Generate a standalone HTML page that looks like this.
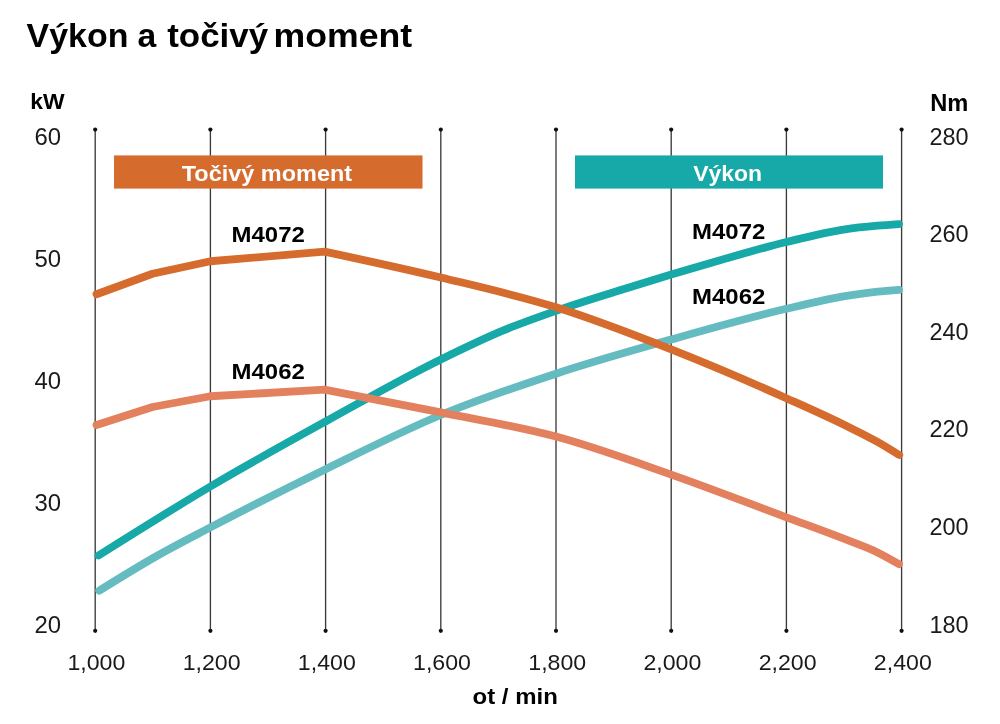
<!DOCTYPE html>
<html lang="cs">
<head>
<meta charset="utf-8">
<title>Výkon a točivý moment</title>
<style>
html,body{margin:0;padding:0;background:#fff;}
body{width:1000px;height:724px;overflow:hidden;font-family:"Liberation Sans",sans-serif;}
svg{display:block;}
svg text{font-family:"Liberation Sans",sans-serif;fill:#1a1a1a;}
.b{fill:#000;}
.b{font-weight:bold;}
.w{fill:#fff !important;}
</style>
</head>
<body>
<svg width="1000" height="724" viewBox="0 0 1000 724">
<rect width="1000" height="724" fill="#fff"/>

<g aria-label="Výkon a točivý moment">
<text class="b" transform="translate(26.6,47) scale(1.045,1)" font-size="32.5">Výkon</text>
<text class="b" transform="translate(137.4,47) scale(1.036,1)" font-size="32.5">a</text>
<text class="b" transform="translate(167.2,47) scale(1.074,1)" font-size="32.5">točivý</text>
<text class="b" transform="translate(273.5,47) scale(1.097,1)" font-size="32.5">moment</text>
</g>
<text class="b" transform="translate(30.2,108.75) scale(1.04,1)" font-size="22">kW</text>
<text class="b" transform="translate(930.2,111.3) scale(1.03,1)" font-size="23">Nm</text>
<line x1="95.2" y1="129.6" x2="95.2" y2="630.8" stroke="#3c3c3c" stroke-width="1.35"/>
<circle cx="95.2" cy="129.6" r="2.1" fill="#111"/>
<circle cx="95.2" cy="630.8" r="2.1" fill="#111"/>
<line x1="210.4" y1="129.6" x2="210.4" y2="630.8" stroke="#3c3c3c" stroke-width="1.35"/>
<circle cx="210.4" cy="129.6" r="2.1" fill="#111"/>
<circle cx="210.4" cy="630.8" r="2.1" fill="#111"/>
<line x1="325.6" y1="129.6" x2="325.6" y2="630.8" stroke="#3c3c3c" stroke-width="1.35"/>
<circle cx="325.6" cy="129.6" r="2.1" fill="#111"/>
<circle cx="325.6" cy="630.8" r="2.1" fill="#111"/>
<line x1="440.8" y1="129.6" x2="440.8" y2="630.8" stroke="#3c3c3c" stroke-width="1.35"/>
<circle cx="440.8" cy="129.6" r="2.1" fill="#111"/>
<circle cx="440.8" cy="630.8" r="2.1" fill="#111"/>
<line x1="556.0" y1="129.6" x2="556.0" y2="630.8" stroke="#3c3c3c" stroke-width="1.35"/>
<circle cx="556.0" cy="129.6" r="2.1" fill="#111"/>
<circle cx="556.0" cy="630.8" r="2.1" fill="#111"/>
<line x1="671.2" y1="129.6" x2="671.2" y2="630.8" stroke="#3c3c3c" stroke-width="1.35"/>
<circle cx="671.2" cy="129.6" r="2.1" fill="#111"/>
<circle cx="671.2" cy="630.8" r="2.1" fill="#111"/>
<line x1="786.4" y1="129.6" x2="786.4" y2="630.8" stroke="#3c3c3c" stroke-width="1.35"/>
<circle cx="786.4" cy="129.6" r="2.1" fill="#111"/>
<circle cx="786.4" cy="630.8" r="2.1" fill="#111"/>
<line x1="901.6" y1="129.6" x2="901.6" y2="630.8" stroke="#3c3c3c" stroke-width="1.35"/>
<circle cx="901.6" cy="129.6" r="2.1" fill="#111"/>
<circle cx="901.6" cy="630.8" r="2.1" fill="#111"/>
<text class="ax" transform="translate(34.5,144.5) scale(1.04,1)" font-size="23">60</text>
<text class="ax" transform="translate(34.5,266.5) scale(1.04,1)" font-size="23">50</text>
<text class="ax" transform="translate(34.5,388.5) scale(1.04,1)" font-size="23">40</text>
<text class="ax" transform="translate(34.5,510.5) scale(1.04,1)" font-size="23">30</text>
<text class="ax" transform="translate(34.5,632.5) scale(1.04,1)" font-size="23">20</text>
<text class="ax" transform="translate(929.4,144.5) scale(1.02,1)" font-size="23">280</text>
<text class="ax" transform="translate(929.4,242.1) scale(1.02,1)" font-size="23">260</text>
<text class="ax" transform="translate(929.4,339.7) scale(1.02,1)" font-size="23">240</text>
<text class="ax" transform="translate(929.4,437.3) scale(1.02,1)" font-size="23">220</text>
<text class="ax" transform="translate(929.4,534.9) scale(1.02,1)" font-size="23">200</text>
<text class="ax" transform="translate(929.4,632.5) scale(1.02,1)" font-size="23">180</text>
<text class="ax" transform="translate(96.4,670.3) scale(1.02,1)" font-size="22.7" text-anchor="middle">1,000</text>
<text class="ax" transform="translate(211.6,670.3) scale(1.02,1)" font-size="22.7" text-anchor="middle">1,200</text>
<text class="ax" transform="translate(326.8,670.3) scale(1.02,1)" font-size="22.7" text-anchor="middle">1,400</text>
<text class="ax" transform="translate(442.0,670.3) scale(1.02,1)" font-size="22.7" text-anchor="middle">1,600</text>
<text class="ax" transform="translate(557.2,670.3) scale(1.02,1)" font-size="22.7" text-anchor="middle">1,800</text>
<text class="ax" transform="translate(672.4,670.3) scale(1.02,1)" font-size="22.7" text-anchor="middle">2,000</text>
<text class="ax" transform="translate(787.6,670.3) scale(1.02,1)" font-size="22.7" text-anchor="middle">2,200</text>
<text class="ax" transform="translate(902.8,670.3) scale(1.02,1)" font-size="22.7" text-anchor="middle">2,400</text>
<text class="b" transform="translate(515.2,703.8) scale(1.09,1)" font-size="22" text-anchor="middle">ot / min</text>
<path d="M99.30,590.60 C117.87,579.08 136.43,567.56 155.00,557.00 C173.47,546.50 191.93,537.09 210.40,527.40 C248.80,507.25 287.20,487.93 325.60,469.20 C364.00,450.47 402.40,430.92 440.80,415.00 C479.20,399.08 517.60,386.28 556.00,373.70 C594.40,361.12 632.80,350.32 671.20,339.50 C709.60,328.68 748.00,317.72 786.40,308.80 C805.93,304.26 825.47,299.44 845.00,296.20 C855.83,294.40 866.67,292.84 877.50,291.70 C884.67,290.94 891.83,290.42 899.00,289.90" fill="none" stroke="#64bcc0" stroke-width="7.8" stroke-linecap="round" stroke-linejoin="round"/>
<path d="M98.50,555.50 C135.80,532.02 173.10,508.54 210.40,486.50 C248.80,463.81 287.20,442.67 325.60,421.50 C364.00,400.33 402.40,378.32 440.80,359.50 C461.87,349.18 482.93,338.90 504.00,330.20 C521.33,323.04 538.67,316.95 556.00,310.90 C577.33,303.45 598.67,297.01 620.00,290.30 C637.07,284.93 654.13,279.63 671.20,274.50 C687.47,269.61 703.73,264.84 720.00,260.20 C742.13,253.89 764.27,247.39 786.40,242.00 C805.93,237.24 825.47,232.20 845.00,229.30 C855.83,227.69 866.67,226.66 877.50,225.70 C884.67,225.06 891.83,224.58 899.00,224.10" fill="none" stroke="#17a8a8" stroke-width="7.8" stroke-linecap="round" stroke-linejoin="round"/>
<path d="M96.50,425.00 L152.50,407.00 L210.40,396.25 L324.50,389.70 C363.27,397.07 402.03,404.44 440.80,412.30 C479.20,420.08 517.60,426.22 556.00,436.60 C594.40,446.98 632.80,461.15 671.20,474.60 C709.60,488.05 748.00,502.99 786.40,517.30 C805.93,524.58 825.47,531.49 845.00,539.20 C855.83,543.47 866.67,547.10 877.50,552.40 C884.67,555.91 891.83,560.00 899.00,564.10" fill="none" stroke="#e3815f" stroke-width="7.8" stroke-linecap="round" stroke-linejoin="round"/>
<path d="M96.50,294.25 L152.50,273.75 L210.40,261.25 L324.50,251.60 C363.27,259.88 402.03,268.17 440.80,277.50 C479.20,286.75 517.60,295.32 556.00,307.30 C594.40,319.28 632.80,334.25 671.20,349.40 C709.60,364.55 748.00,380.99 786.40,398.20 C805.93,406.96 825.47,415.53 845.00,425.20 C855.83,430.56 866.67,435.75 877.50,441.90 C884.73,446.01 891.97,450.50 899.20,455.00" fill="none" stroke="#d66b2e" stroke-width="7.8" stroke-linecap="round" stroke-linejoin="round"/>
<rect x="114" y="155.4" width="308.5" height="33.2" fill="#d66b2e"/>
<rect x="575" y="155.4" width="308" height="33.2" fill="#17a8a8"/>
<text class="b w" transform="translate(266.9,181.2) scale(1.048,1)" font-size="22.4" text-anchor="middle">Točivý moment</text>
<text class="b w" transform="translate(727.7,180.7) scale(1.025,1)" font-size="22.4" text-anchor="middle">Výkon</text>
<text class="b" transform="translate(231.5,242) scale(1.09,1)" font-size="22">M4072</text>
<text class="b" transform="translate(231.5,378.75) scale(1.09,1)" font-size="22">M4062</text>
<text class="b" transform="translate(692,238.75) scale(1.09,1)" font-size="22">M4072</text>
<text class="b" transform="translate(692,303.75) scale(1.09,1)" font-size="22">M4062</text>
</svg>
</body>
</html>
